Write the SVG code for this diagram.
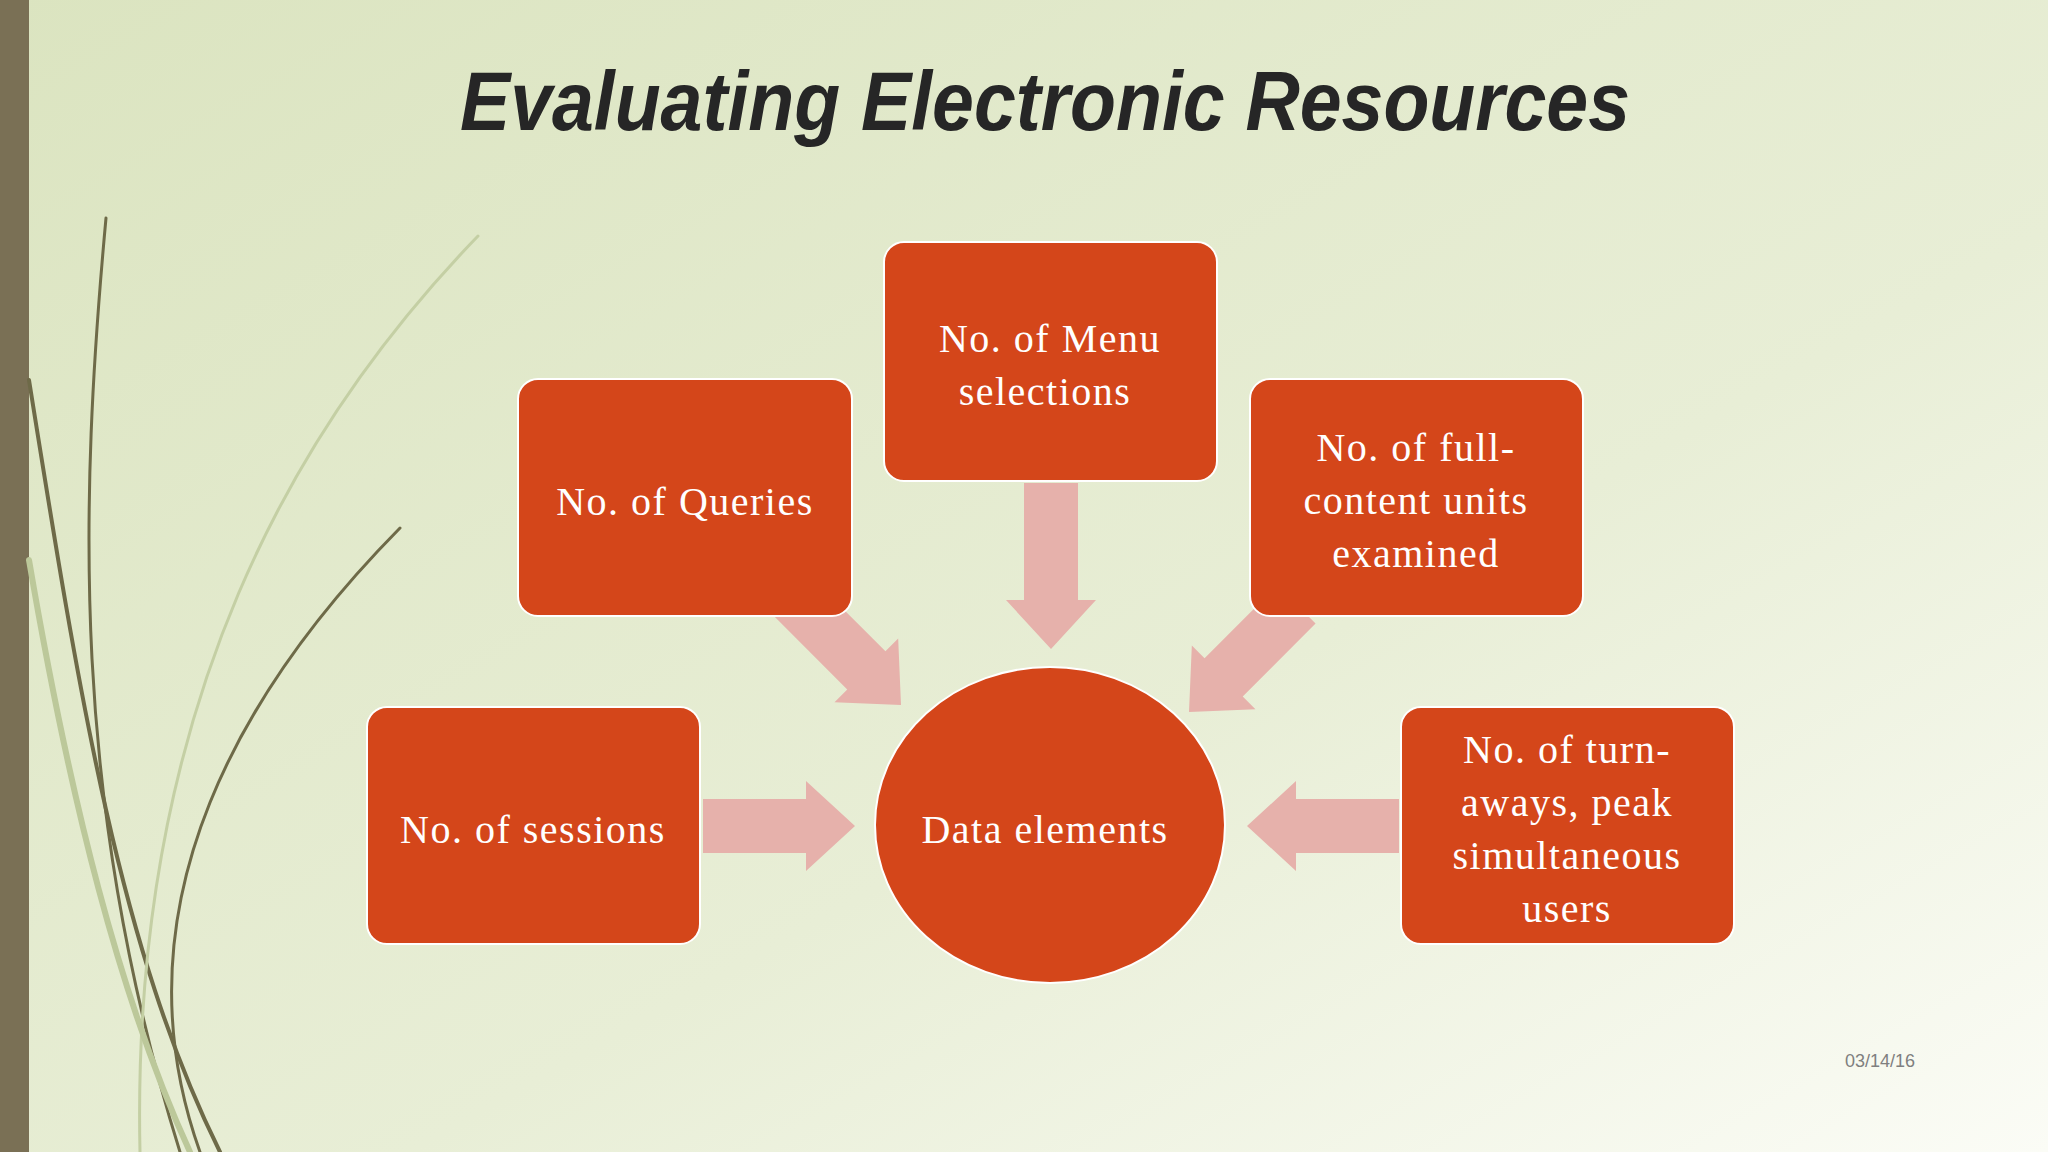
<svg xmlns="http://www.w3.org/2000/svg" width="2048" height="1152" viewBox="0 0 2048 1152">
<defs>
<linearGradient id="bg" x1="0" y1="0" x2="1" y2="1">
<stop offset="0" stop-color="#dbe4c0"/>
<stop offset="0.6" stop-color="#e8eed6"/>
<stop offset="1" stop-color="#fbfcf6"/>
</linearGradient>
<style>
.box{fill:#d4461a;stroke:#ffffff;stroke-width:2}
.t{font-family:"Liberation Serif",serif;font-size:40px;fill:#ffffff;text-anchor:middle;letter-spacing:1.5px}
.arr{fill:#e6b1ab}
</style>
<path id="ar" d="M-152,-27 L-49,-27 L-49,-45 L0,0 L-49,45 L-49,27 L-152,27 Z"/>
<path id="ard" d="M-166,-27 L-49,-27 L-49,-45 L0,0 L-49,45 L-49,27 L-166,27 Z"/>
</defs>
<rect width="2048" height="1152" fill="url(#bg)"/>
<rect width="29" height="1152" fill="#7a7055"/>
<g fill="none" stroke-linecap="round">
<path d="M106,218 C80,500 70,800 180,1152" stroke="#6e6a48" stroke-width="3"/>
<path d="M400,528 C250,680 110,900 200,1152" stroke="#6e6a48" stroke-width="3"/>
<path d="M29,380 C80,700 120,950 220,1152" stroke="#6e6a48" stroke-width="4"/>
<path d="M478,236 C300,420 130,700 140,1152" stroke="#c4cfa4" stroke-width="3"/>
<path d="M29,560 C70,800 120,1000 190,1152" stroke="#bcc89a" stroke-width="6"/>
</g>
<text x="1045" y="130" font-family="Liberation Sans,sans-serif" font-size="84" font-weight="bold" font-style="italic" fill="#262626" text-anchor="middle" textLength="1170" lengthAdjust="spacingAndGlyphs">Evaluating Electronic Resources</text>
<g id="connectors">
<use href="#ard" class="arr" transform="translate(1051,649) rotate(90)"/>
<use href="#ar" class="arr" transform="translate(855,826)"/>
<use href="#ar" class="arr" transform="translate(1247,826) rotate(180)"/>
<use href="#ar" class="arr" transform="translate(901,705) rotate(45)"/>
<use href="#ar" class="arr" transform="translate(1189,712) rotate(135)"/>
</g>
<g id="menu"><rect class="box" x="884" y="242" width="333" height="239" rx="20"/>
<text class="t" x="1050" y="352">No. of Menu</text><text class="t" x="1045" y="405">selections</text></g>
<g id="queries"><rect class="box" x="518" y="379" width="334" height="237" rx="20"/>
<text class="t" x="685" y="515">No. of Queries</text></g>
<g id="full"><rect class="box" x="1250" y="379" width="333" height="237" rx="20"/>
<text class="t" x="1416" y="461">No. of full-</text><text class="t" x="1416" y="514">content units</text><text class="t" x="1416" y="567">examined</text></g>
<g id="sessions"><rect class="box" x="367" y="707" width="333" height="237" rx="20"/>
<text class="t" x="533" y="843">No. of sessions</text></g>
<g id="turn"><rect class="box" x="1401" y="707" width="333" height="237" rx="20"/>
<text class="t" x="1567" y="763">No. of turn-</text><text class="t" x="1567" y="816">aways, peak</text><text class="t" x="1567" y="869">simultaneous</text><text class="t" x="1567" y="922">users</text></g>
<g id="data"><ellipse class="box" cx="1050" cy="825" rx="175" ry="158"/>
<text class="t" x="1045" y="843">Data elements</text></g>
<text x="1880" y="1067" font-family="Liberation Sans,sans-serif" font-size="18" fill="#7f7f7f" text-anchor="middle">03/14/16</text>
</svg>
